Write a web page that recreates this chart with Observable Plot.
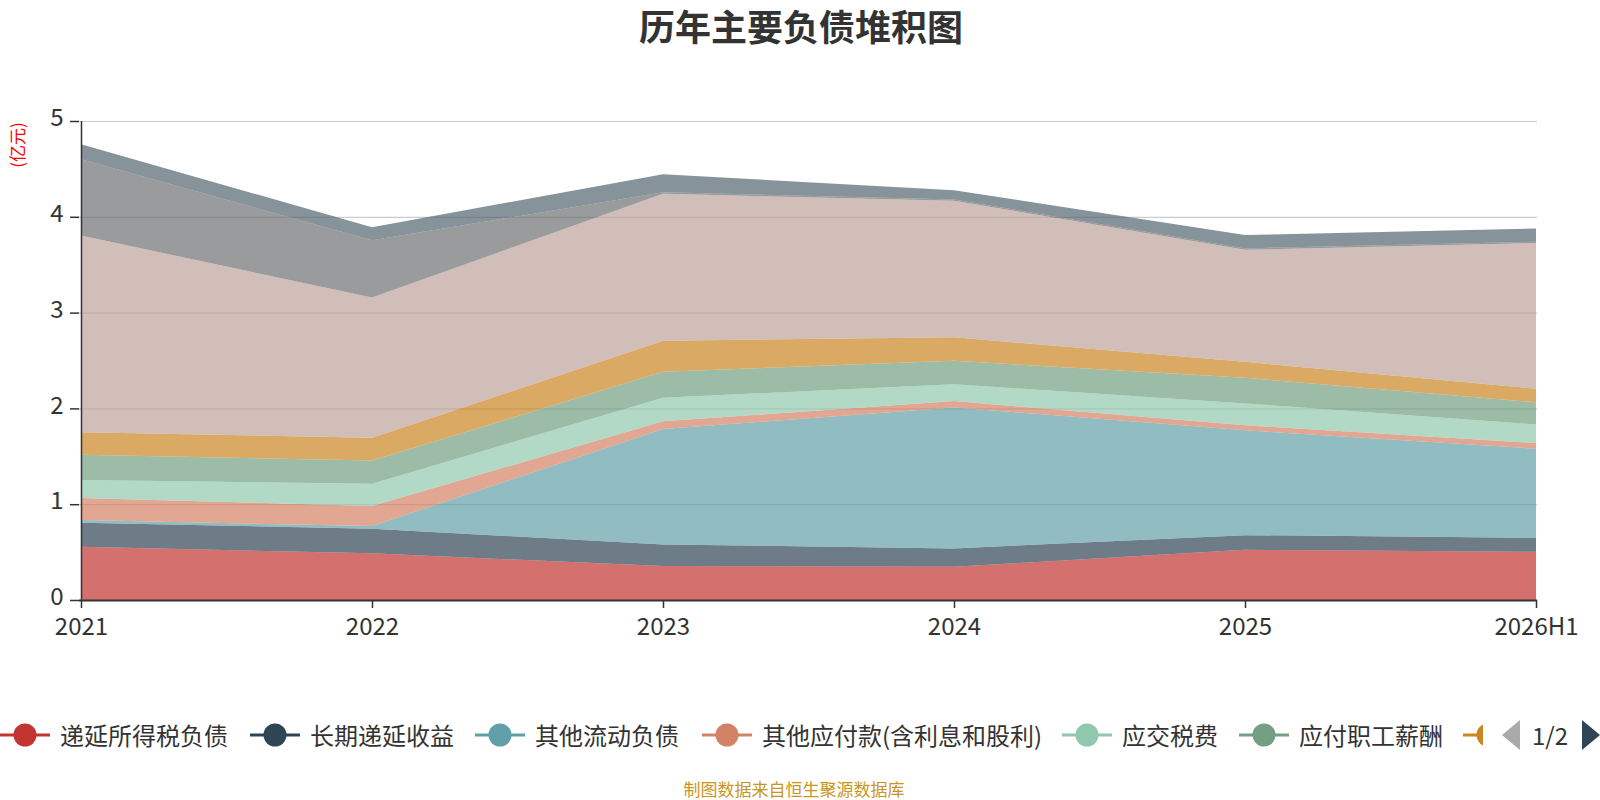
<!DOCTYPE html>
<html><head><meta charset="utf-8">
<script src="https://cdn.jsdelivr.net/npm/d3@7"></script>
<script src="https://cdn.jsdelivr.net/npm/@observablehq/plot@0.6"></script>
<style>
body{margin:0;background:#fff;font-family:"Noto Sans CJK SC","Noto Sans",sans-serif;}
#wrap{position:relative;width:1600px;height:800px;overflow:hidden;background:#fff;}
#title{position:absolute;top:0px;left:0;width:1602px;text-align:center;font-size:36px;font-weight:bold;color:#333;line-height:51px;}
#unit{position:absolute;left:17px;top:145px;color:#ff0000;font-size:17px;line-height:18px;white-space:nowrap;transform:translate(-50%,-50%) rotate(-90deg);}
#chart{position:absolute;left:0;top:0;}
#legend{position:absolute;top:718px;left:0;width:1600px;height:33px;white-space:nowrap;font-size:24px;color:#333;}
.item{position:absolute;top:0;display:flex;align-items:center;height:33px;}
.item span{margin-left:10px;}
#caption{position:absolute;top:778px;left:0;width:1588px;text-align:center;font-size:17px;color:#c8961e;line-height:22px;}
</style></head>
<body>
<div id="wrap">
  <div id="chart"></div>
  <div id="title">历年主要负债堆积图</div>
  <div id="unit">(亿元)</div>
  <div id="legend"></div>
  <div id="caption">制图数据来自恒生聚源数据库</div>
</div>
<script>
const years = ["2021","2022","2023","2024","2025","2026H1"];
const seriesNames = ["递延所得税负债","长期递延收益","其他流动负债","其他应付款(含利息和股利)","应交税费","应付职工薪酬","合同负债","应付账款","应付票据","短期借款"];
const seriesColors = ["#c23531","#2f4554","#61a0a8","#d48265","#91c7ae","#749f83","#ca8622","#bda29a","#6e7074","#546570"];
// 亿元
const deferredTaxLiab   = [0.556,0.487,0.354,0.347,0.524,0.503];
const longTermDeferred  = [0.251,0.257,0.226,0.191,0.153,0.146];
const otherCurrentLiab  = [0.027,0.028,1.205,1.472,1.094,0.931];
const otherPayables     = [0.230,0.209,0.080,0.066,0.052,0.059];
const taxesPayable      = [0.188,0.232,0.246,0.177,0.229,0.194];
const payrollPayable    = [0.264,0.244,0.271,0.244,0.267,0.230];
const contractLiab      = [0.236,0.236,0.323,0.246,0.167,0.142];
const accountsPayable   = [2.052,1.464,1.535,1.424,1.170,1.521];
const notesPayable      = [0.796,0.598,0.015,0.013,0.014,0.014];
const shortTermLoans    = [0.157,0.136,0.189,0.098,0.139,0.138];
const yTicks = [0,1,2,3,4,5];

const seriesValues = [deferredTaxLiab,longTermDeferred,otherCurrentLiab,otherPayables,taxesPayable,payrollPayable,contractLiab,accountsPayable,notesPayable,shortTermLoans];
const data = [];
seriesNames.forEach((s,i)=>years.forEach((y,j)=>data.push({series:s, year:y, value:seriesValues[i][j]})));

const font = '"Noto Sans CJK SC","Noto Sans",sans-serif';
const chart = Plot.plot({
  width:1600, height:660,
  marginLeft:79, marginRight:63, marginTop:121, marginBottom:60,
  style:{fontFamily:font, fontSize:"24px", color:"#333", background:"transparent"},
  x:{type:"point", domain:years, padding:0, label:null},
  y:{domain:[0,5], label:null},
  color:{domain:seriesNames, range:seriesColors},
  marks:[
    Plot.gridY([1,2,3,4,5],{stroke:"#cccccc", strokeOpacity:1, strokeWidth:1.2}),
    Plot.areaY(data, Plot.stackY({x:"year", y:"value", z:"series", fill:"series", fillOpacity:0.7, order:seriesNames, curve:"linear"})),
    Plot.ruleY([0],{stroke:"#333", strokeWidth:2}),
    Plot.ruleX([years[0]],{stroke:"#333", strokeWidth:1.5}),
    Plot.axisX({tickSize:8, tickPadding:9, stroke:"#333", strokeWidth:1.5, fontSize:24, fill:"#333"}),
    Plot.axisY({ticks:yTicks, tickSize:9, text:null, stroke:"#333", strokeWidth:1.5}),
    Plot.axisY({ticks:yTicks, tickFormat:d3.format("d"), tickSize:0, tickPadding:16, dy:-3, fontSize:24, fill:"#333"})
  ]
});
document.getElementById("chart").appendChild(chart);

// legend (page 1 of 2)
const legend = document.getElementById("legend");
const iconLeft = [0,250,475,702,1062,1239];
for (let i=0;i<6;i++){
  const d = document.createElement("div");
  d.className="item"; d.style.left=iconLeft[i]+"px";
  d.innerHTML = `<svg width="50" height="26"><line x1="0" y1="13" x2="50" y2="13" stroke="${seriesColors[i]}" stroke-width="3"/><circle cx="25" cy="13" r="11.5" fill="${seriesColors[i]}"/></svg><span>${seriesNames[i]}</span>`;
  legend.appendChild(d);
}
// clipped 7th item
const p = document.createElement("div");
p.className="item"; p.style.left="1463px"; p.style.width="20px"; p.style.overflow="hidden";
p.innerHTML = `<svg width="50" height="26" style="flex:none"><line x1="0" y1="13" x2="50" y2="13" stroke="${seriesColors[6]}" stroke-width="3"/><circle cx="25" cy="13" r="11.5" fill="${seriesColors[6]}"/></svg>`;
legend.appendChild(p);
// pager
const pg = document.createElement("div");
pg.className="item"; pg.style.left="1502px";
pg.innerHTML = `<svg width="18" height="30" style="flex:none"><polygon points="18,0 18,30 0,15" fill="#aaa"/></svg><span style="margin:0 0 0 12px;width:50px;display:inline-block">1/2</span><svg width="18" height="30" style="flex:none"><polygon points="0,0 0,30 18,15" fill="#2f4554"/></svg>`;
legend.appendChild(pg);
</script>
</body></html>
